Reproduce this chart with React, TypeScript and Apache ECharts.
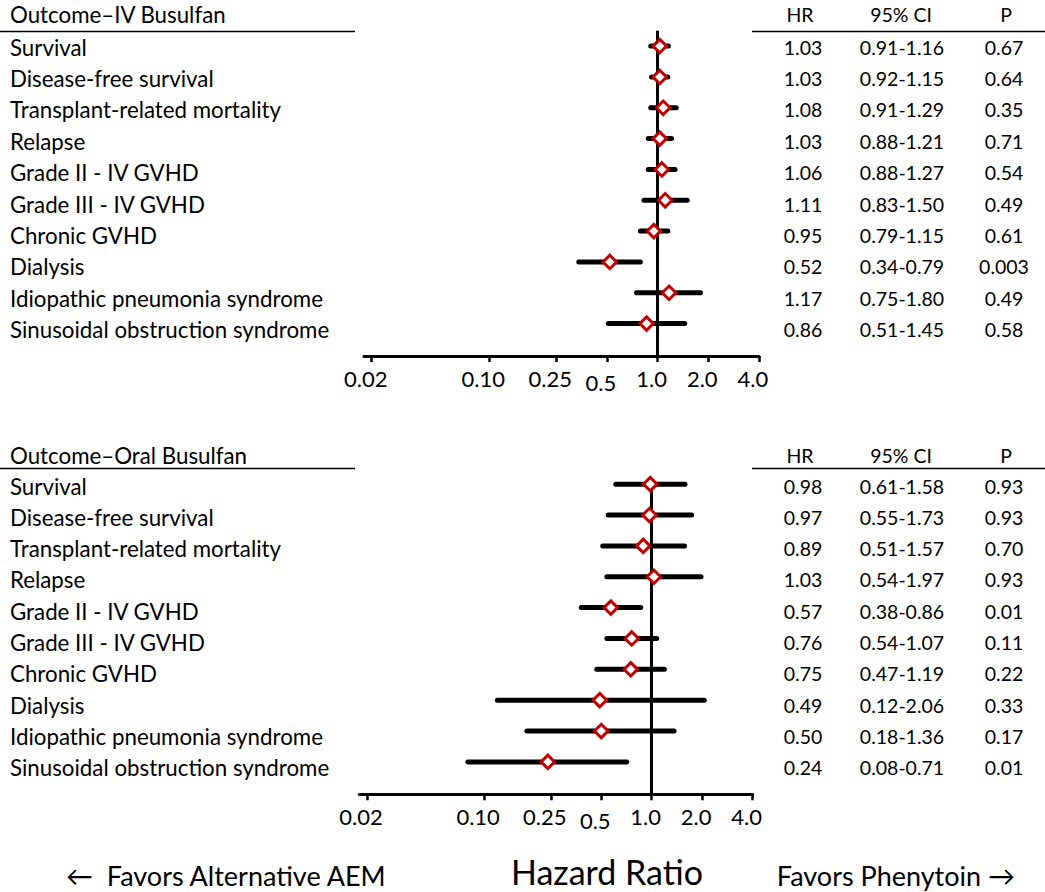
import React, { useEffect, useRef } from 'react';
import * as echarts from 'echarts';

const outcomes = [
  'Survival',
  'Disease-free survival',
  'Transplant-related mortality',
  'Relapse',
  'Grade II - IV GVHD',
  'Grade III - IV GVHD',
  'Chronic GVHD',
  'Dialysis',
  'Idiopathic pneumonia syndrome',
  'Sinusoidal obstruction syndrome',
];

const ivHR = [1.03, 1.03, 1.08, 1.03, 1.06, 1.11, 0.95, 0.52, 1.17, 0.86];
const ivLow = [0.91, 0.92, 0.91, 0.88, 0.88, 0.83, 0.79, 0.34, 0.75, 0.51];
const ivHigh = [1.16, 1.15, 1.29, 1.21, 1.27, 1.5, 1.15, 0.79, 1.8, 1.45];
const ivHRText = ['1.03', '1.03', '1.08', '1.03', '1.06', '1.11', '0.95', '0.52', '1.17', '0.86'];
const ivCIText = ['0.91-1.16', '0.92-1.15', '0.91-1.29', '0.88-1.21', '0.88-1.27', '0.83-1.50', '0.79-1.15', '0.34-0.79', '0.75-1.80', '0.51-1.45'];
const ivP = ['0.67', '0.64', '0.35', '0.71', '0.54', '0.49', '0.61', '0.003', '0.49', '0.58'];

const oralHR = [0.98, 0.97, 0.89, 1.03, 0.57, 0.76, 0.75, 0.49, 0.5, 0.24];
const oralLow = [0.61, 0.55, 0.51, 0.54, 0.38, 0.54, 0.47, 0.12, 0.18, 0.08];
const oralHigh = [1.58, 1.73, 1.57, 1.97, 0.86, 1.07, 1.19, 2.06, 1.36, 0.71];
const oralHRText = ['0.98', '0.97', '0.89', '1.03', '0.57', '0.76', '0.75', '0.49', '0.50', '0.24'];
const oralCIText = ['0.61-1.58', '0.55-1.73', '0.51-1.57', '0.54-1.97', '0.38-0.86', '0.54-1.07', '0.47-1.19', '0.12-2.06', '0.18-1.36', '0.08-0.71'];
const oralP = ['0.93', '0.93', '0.70', '0.93', '0.01', '0.11', '0.22', '0.33', '0.17', '0.01'];

const tickValues = [0.02, 0.1, 0.25, 0.5, 1, 2, 4];
const tickLabels = ['0.02', '0.10', '0.25', '0.5', '1.0', '2.0', '4.0'];

const ivTitle = 'Outcome\u2013IV Busulfan';
const oralTitle = 'Outcome\u2013Oral Busulfan';
const colHeaders = ['HR', '95% CI', 'P'];
const footLeft = '\u2190  Favors Alternative AEM';
const footCenter = 'Hazard Ratio';
const footRight = 'Favors Phenytoin \u2192';

const FONT = 'Lato, "Open Sans", sans-serif';
const LABEL_FS = 22.3;
const NUM_FS = 19.5;
const TICK_FS = 22;

const colX = [803, 902, 1004];
const headX = [800, 901, 1006];

function makeText(text: string, x: number, y: number, align: string, size: number) {
  return {
    type: 'text',
    x,
    y,
    silent: true,
    style: {
      text,
      fill: '#000',
      fontSize: size,
      fontFamily: FONT,
      align,
      verticalAlign: 'middle',
    },
  };
}

function panelGraphics(title: string, headY: number, lineY: number, rowY0: number, rowStep: number,
  hrText: string[], ciText: string[], pText: string[]) {
  const els: any[] = [];
  els.push(makeText(title, 10, headY, 'left', LABEL_FS));
  colHeaders.forEach((h, k) => els.push(makeText(h, headX[k], headY, 'center', NUM_FS)));
  els.push({ type: 'line', silent: true, shape: { x1: 0, y1: lineY, x2: 355, y2: lineY }, style: { stroke: '#000', lineWidth: 1.6 } });
  els.push({ type: 'line', silent: true, shape: { x1: 752, y1: lineY, x2: 1045, y2: lineY }, style: { stroke: '#000', lineWidth: 1.6 } });
  outcomes.forEach((o, i) => {
    const y = rowY0 + rowStep * i;
    els.push(makeText(o, 10, y, 'left', LABEL_FS));
    els.push(makeText(hrText[i], colX[0], y, 'center', NUM_FS));
    els.push(makeText(ciText[i], colX[1], y, 'center', NUM_FS));
    els.push(makeText(pText[i], colX[2], y, 'center', NUM_FS));
  });
  return els;
}

function tickFormatter(val: number) {
  const idx = tickValues.findIndex((v) => Math.abs(v - val) / v < 1e-3);
  if (idx < 0) return '';
  const s = tickLabels[idx];
  return s === '0.5' ? '{low|' + s + '}' : '{t|' + s + '}';
}

function xAxisFor(gridIndex: number) {
  return {
    type: 'log',
    logBase: 2,
    gridIndex,
    min: 0.018,
    max: 4.005,
    axisLine: { show: true, onZero: false, lineStyle: { color: '#000', width: 3 } },
    axisTick: { show: true, customValues: tickValues, length: 6, inside: false, lineStyle: { color: '#000', width: 2.5 } },
    axisLabel: {
      customValues: tickValues,
      formatter: tickFormatter,
      color: '#000',
      fontSize: TICK_FS,
      fontFamily: FONT,
      margin: 11,
      rich: {
        t: { fontSize: TICK_FS, fontFamily: FONT, color: '#000', padding: [0, 12, 0, 0] },
        low: { fontSize: TICK_FS, fontFamily: FONT, color: '#000', padding: [4, 12, 0, 0] },
      },
    },
    splitLine: { show: false },
    minorTick: { show: false },
  };
}

function ciSeries(idx: number, low: number[], high: number[]) {
  return {
    type: 'custom',
    xAxisIndex: idx,
    yAxisIndex: idx,
    z: 2,
    silent: true,
    encode: { x: [1, 2], y: 0 },
    data: low.map((l, i) => [i, l, high[i]]),
    renderItem: (params: any, api: any) => {
      const y = api.value(0);
      const a = api.coord([api.value(1), y]);
      const b = api.coord([api.value(2), y]);
      return {
        type: 'line',
        shape: { x1: a[0], y1: a[1], x2: b[0], y2: b[1] },
        style: { stroke: '#000', lineWidth: 5, lineCap: 'round' },
      };
    },
  };
}

function pointSeries(idx: number, hr: number[]) {
  return {
    type: 'scatter',
    xAxisIndex: idx,
    yAxisIndex: idx,
    z: 3,
    silent: true,
    symbol: 'diamond',
    symbolSize: 13.5,
    itemStyle: { color: '#fff', borderColor: '#C00000', borderWidth: 3, opacity: 1 },
    data: hr.map((v, i) => [v, i]),
    markLine: {
      silent: true,
      z: 1,
      symbol: ['none', 'none'],
      label: { show: false },
      lineStyle: { color: '#000', width: 3, type: 'solid' },
      data: [{ xAxis: 1 }],
    },
  };
}

export default function App() {
  const ref = useRef<HTMLDivElement>(null);
  useEffect(() => {
    if (!ref.current) return;
    const chart = echarts.init(ref.current, null, { renderer: 'svg' });
    const graphics = [
      ...panelGraphics(ivTitle, 14, 31.5, 47, 31.4, ivHRText, ivCIText, ivP),
      ...panelGraphics(oralTitle, 455, 468.5, 486, 31.3, oralHRText, oralCIText, oralP),
      makeText(footLeft, 66, 875, 'left', 27),
      makeText(footCenter, 607, 871, 'center', 34),
      makeText(footRight, 1015, 875, 'right', 27),
    ];
    chart.setOption({
      animation: false,
      backgroundColor: '#fff',
      textStyle: { fontFamily: FONT },
      grid: [
        { left: 364, top: 30.7, width: 395, height: 325.3 },
        { left: 359.3, top: 478, width: 393.4, height: 316.3 },
      ],
      xAxis: [xAxisFor(0), xAxisFor(1)],
      yAxis: [
        { type: 'value', gridIndex: 0, inverse: true, min: -0.5, max: 10.05, show: false },
        { type: 'value', gridIndex: 1, inverse: true, min: -0.2, max: 10.05, show: false },
      ],
      series: [
        ciSeries(0, ivLow, ivHigh),
        pointSeries(0, ivHR),
        ciSeries(1, oralLow, oralHigh),
        pointSeries(1, oralHR),
      ],
      graphic: graphics,
    });
    return () => chart.dispose();
  }, []);
  return (
    <div
      ref={ref}
      style={{ position: 'fixed', left: 0, top: 0, width: 1045, height: 892, background: '#fff' }}
    />
  );
}
